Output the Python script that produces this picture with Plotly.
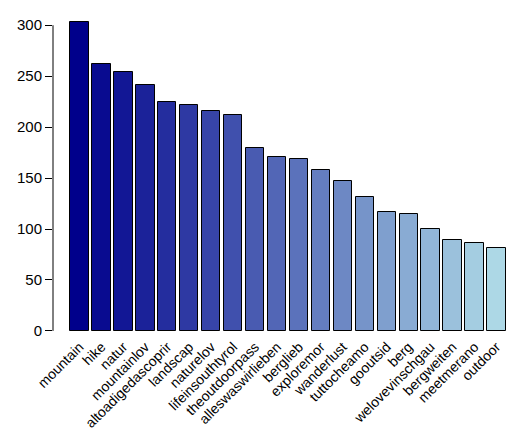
import plotly.graph_objects as go

tags = ["mountain", "hike", "natur", "mountainlov", "altoadigedascoprir", "landscap",
        "naturelov", "lifeinsouthtyrol", "theoutdoorpass", "alleswaswirlieben", "berglieb",
        "exploremor", "wanderlust", "tuttocheamo", "gooutsid", "berg", "welovevinschgau",
        "bergweiten", "meetmerano", "outdoor"]
counts = [303, 262, 254, 241, 225, 222, 216, 212, 180, 171, 169, 158, 147, 131, 117, 115,
          100, 89, 86, 81]

# darkblue -> lightblue ramp
c0, c1 = (0, 0, 139), (173, 216, 230)
n = len(tags)
colors = ["rgb(%d,%d,%d)" % tuple(round(a + (b - a) * i / (n - 1)) for a, b in zip(c0, c1))
          for i in range(n)]

fig = go.Figure(go.Bar(x=tags, y=counts, width=1 / 1.2,
                       marker=dict(color=colors, line=dict(color="black", width=1))))

fig.update_layout(
    width=520, height=428,
    margin=dict(l=45, r=5, t=5, b=95),
    plot_bgcolor="white", paper_bgcolor="white",
    font=dict(family="Liberation Sans, Arial", size=14, color="black"),
    showlegend=False,
    bargap=0,
)
fig.update_xaxes(range=[-1.21, 20.21], tickangle=-45, showline=False, ticks="",
                 showgrid=False, ticklabelstandoff=0)
fig.update_yaxes(range=[-4, 312], tickvals=[0, 50, 100, 150, 200, 250, 300],
                 ticks="outside", ticklen=7, tickcolor="black", showgrid=False,
                 zeroline=False, showline=False, tickfont=dict(size=15))
fig.add_shape(type="line", xref="paper", yref="y", x0=0, x1=0, y0=0, y1=300,
              line=dict(color="black", width=1))

fig.write_html("out.html")
